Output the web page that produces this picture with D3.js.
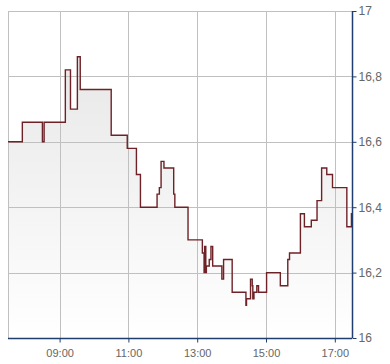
<!DOCTYPE html>
<html>
<head>
<meta charset="utf-8">
<script src="https://cdn.jsdelivr.net/npm/d3@7"></script>
<style>
  body { margin: 0; background: #fff; }
  .tick-label { font-family: "Liberation Sans", Arial, sans-serif; fill: #666; }
</style>
</head>
<body>
<div id="chart"></div>
<script>
// intraday price (step line)
var times = ["07:30","07:55","08:30","08:33","09:10","09:19","09:31","09:36","10:30","10:58",
             "11:14","11:21","11:50","11:54","11:57","12:02","12:19","12:21","12:44","13:09",
             "13:12","13:13","13:15","13:16","13:21","13:24","13:27","13:43","13:46","14:01",
             "14:25","14:26","14:33","14:36","14:37","14:39","14:44","14:47","15:01","15:25",
             "15:38","15:41","16:00","16:07","16:19","16:29","16:37","16:46","16:56","17:21",
             "17:29","17:30"];
var prices = [16.60,16.66,16.60,16.66,16.82,16.70,16.86,16.76,16.62,16.58,
              16.50,16.40,16.44,16.46,16.54,16.52,16.44,16.40,16.30,16.26,
              16.20,16.28,16.20,16.22,16.24,16.28,16.22,16.18,16.24,16.14,
              16.10,16.12,16.18,16.16,16.12,16.14,16.16,16.14,16.20,16.16,
              16.24,16.26,16.38,16.34,16.36,16.42,16.52,16.50,16.46,16.34,
              16.38,16.38];
var xTicks = ["09:00","11:00","13:00","15:00","17:00"];
var yTicks = [16, 16.2, 16.4, 16.6, 16.8, 17];
var xRange = ["07:30","17:30"];

var W = 390, H = 364;
var plotL = 8, plotT = 11, plotR = 352, plotB = 338;
var parse = d3.timeParse("%H:%M");

var data = times.map(function (t, i) { return { t: parse(t), v: prices[i] }; });

var x = d3.scaleTime().domain(xRange.map(parse)).range([plotL, plotR]);
var y = d3.scaleLinear().domain([16, 17]).range([plotB, plotT]);

var svg = d3.select('#chart')
    .append('svg')
    .attr('width', W)
    .attr('height', H);

var defs = svg.append('defs');
var grad = defs.append('linearGradient')
    .attr('id', 'fillGrad')
    .attr('gradientUnits', 'userSpaceOnUse')
    .attr('x1', 0).attr('y1', plotT)
    .attr('x2', 0).attr('y2', plotB);
grad.append('stop').attr('offset', '0%').attr('stop-color', '#e4e4e4');
grad.append('stop').attr('offset', '100%').attr('stop-color', '#ffffff');

// area under the line
var area = d3.area()
    .curve(d3.curveStepAfter)
    .x(function (d) { return x(d.t); })
    .y0(plotB)
    .y1(function (d) { return y(d.v); });

svg.append('path')
    .datum(data)
    .attr('d', area)
    .style('fill', 'url(#fillGrad)');

// grid
var snap = function (v) { return Math.round(v) + 0.5; };
svg.append('g').selectAll('line')
    .data(yTicks.slice(1))
    .enter()
    .append('line')
    .attr('x1', plotL).attr('x2', plotR)
    .attr('y1', (d) => snap(y(d))).attr('y2', (d) => snap(y(d)))
    .style('stroke', '#c0c0c0');

svg.append('g').selectAll('line')
    .data(xTicks)
    .enter()
    .append('line')
    .attr('x1', (d) => snap(x(parse(d)))).attr('x2', (d) => snap(x(parse(d))))
    .attr('y1', plotT).attr('y2', plotB)
    .style('stroke', '#c0c0c0');

svg.append('line')
    .attr('x1', plotL + 0.5).attr('x2', plotL + 0.5)
    .attr('y1', plotT).attr('y2', plotB)
    .style('stroke', '#c0c0c0');

// price line
var line = d3.line()
    .curve(d3.curveStepAfter)
    .x(function (d) { return x(d.t); })
    .y(function (d) { return y(d.v); });

svg.append('path')
    .datum(data)
    .attr('d', line)
    .style('fill', 'none')
    .style('stroke', '#6e2126')
    .style('stroke-width', 1.4);

// axes
var fmtY = function (d) { return d3.format('.1~f')(d).replace('.', ','); };

var yAxis = svg.append('g')
    .attr('transform', 'translate(' + (plotR + 0.5) + ',0)')
    .call(d3.axisRight(y).tickValues(yTicks).tickFormat(fmtY).tickSize(4).tickPadding(2));

var xAxis = svg.append('g')
    .attr('transform', 'translate(0,' + (plotB + 0.5) + ')')
    .call(d3.axisBottom(x).tickValues(xTicks.map(parse)).tickFormat(d3.timeFormat('%H:%M')).tickSize(4).tickPadding(7));

[yAxis, xAxis].forEach(function (g) {
    g.select('.domain').style('stroke', '#1f3d6d').style('stroke-width', 1.5);
    g.selectAll('.tick line').style('stroke', '#1f3d6d');
    g.selectAll('.tick text').attr('class', 'tick-label');
});
yAxis.selectAll('.tick text').style('font-size', '12px');
xAxis.selectAll('.tick text').style('font-size', '11px');
// domain without end caps
yAxis.select('.domain').attr('d', 'M0,' + plotT + 'V' + plotB);
xAxis.select('.domain').attr('d', 'M' + plotL + ',0H' + plotR);
</script>
</body>
</html>
